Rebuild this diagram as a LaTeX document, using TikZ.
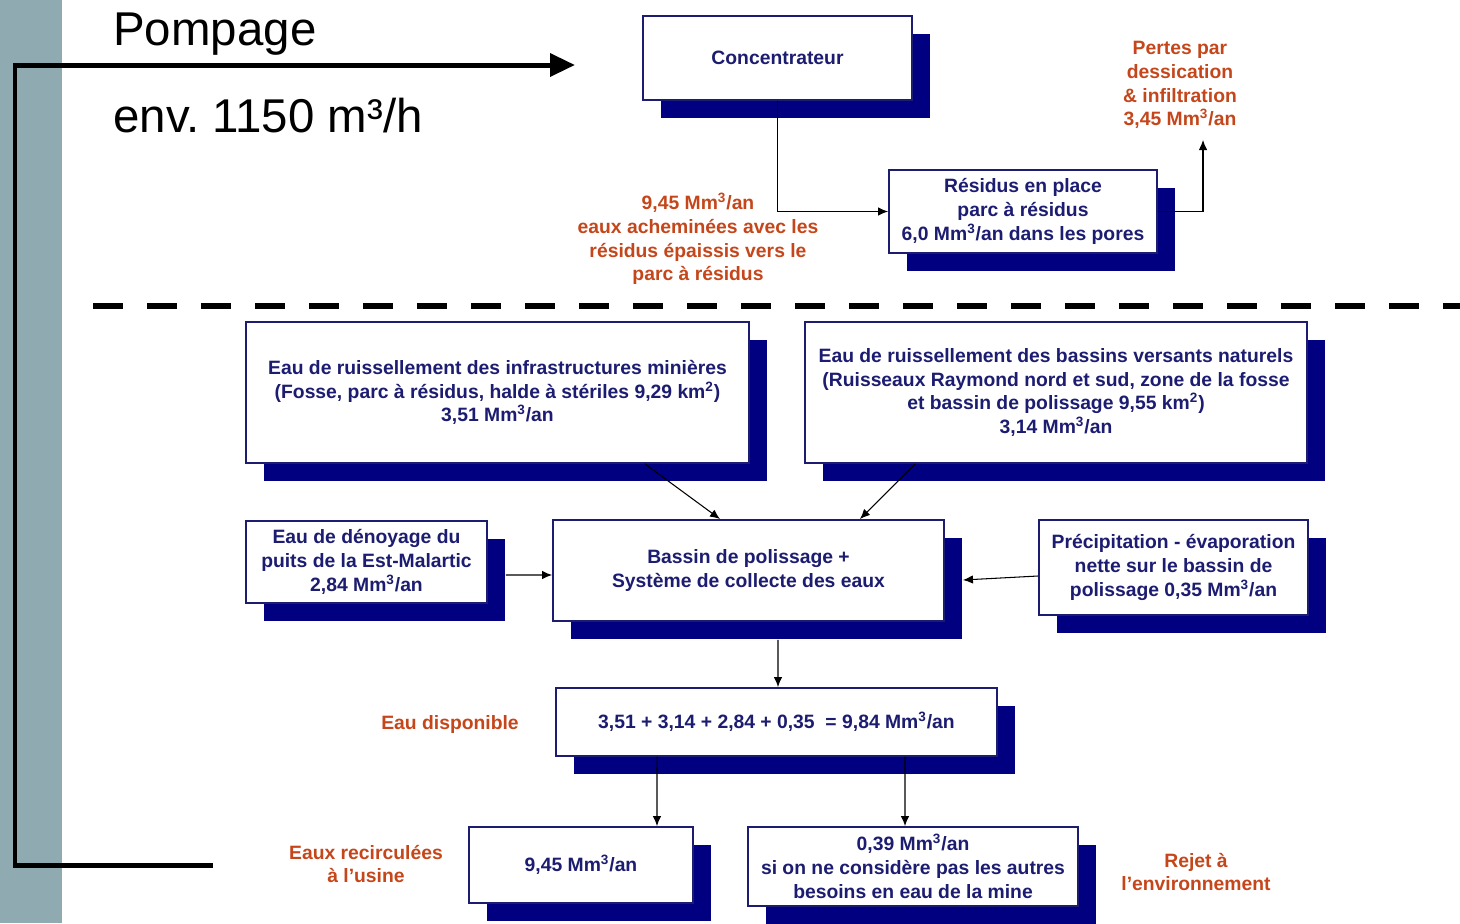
\documentclass[tikz,border=0pt]{standalone}
\usepackage{fontspec}
\setmainfont{Liberation Sans}
\usetikzlibrary{arrows.meta,shadows}
\definecolor{marine}{RGB}{28,28,112}
\definecolor{ombre}{RGB}{0,0,128}
\definecolor{rouille}{RGB}{196,70,26}
\definecolor{ardoise}{RGB}{143,170,176}
\newcommand{\mmc}{Mm\textsuperscript{3}/an}
\frenchspacing

\begin{document}
\begin{tikzpicture}[
	x=0.02cm, y=-0.02cm,
	bloc/.style={draw=marine, line width=1.1pt, fill=white, text=marine,
		font=\fontsize{11}{13.5}\selectfont\bfseries, align=center, inner sep=0pt,
		drop shadow={shadow xshift=0.36cm, shadow yshift=-0.36cm, fill=ombre, opacity=1}},
	etiquette/.style={text=rouille, font=\fontsize{11}{13.5}\selectfont\bfseries, align=center, inner sep=0pt},
	grand/.style={anchor=base west, inner sep=0pt, font=\fontsize{27}{32}\selectfont},
	fleche/.style={draw, line width=0.6pt, -{Latex[length=2mm,width=1.7mm]}},
	pompe/.style={draw, line width=0.1cm, -{Triangle[length=0.5cm,width=0.45cm]}}
]
\useasboundingbox (0,0) rectangle (1460,923);
\fill[ardoise] (0,0) rectangle (62,923);

\node[grand] (pompage) at (113,45) {Pompage};
\node[grand] (debit) at (113,132) {env. 1150 m³/h};

\node[bloc, minimum width=5.38cm, minimum height=1.68cm] (conc) at (777.5,58) {Concentrateur};
\node[bloc, minimum width=5.36cm, minimum height=1.66cm] (resid) at (1023,211.5) {%
	Résidus en place\\parc à résidus\\6,0 \mmc{} dans les pores};
\node[etiquette] (pertes) at (1180,85) {Pertes par\\dessication\\\& infiltration\\3,45 \mmc};
\node[etiquette] (achem) at (698,239) {%
	9,45 \mmc\\eaux acheminées avec les\\résidus épaissis vers le\\parc à résidus};
\coordinate (pertesfin) at (1203,140);
\coordinate (pompedepart) at (213,865);
\coordinate (pompefin) at (575,65);

\draw[line width=0.12cm, dash pattern=on 0.6cm off 0.48cm] (93,306) -- (1460,306);

\node[bloc, minimum width=10.06cm, minimum height=2.82cm] (infra) at (497.5,392.5) {%
	Eau de ruissellement des infrastructures minières\\
	(Fosse, parc à résidus, halde à stériles 9,29 km\textsuperscript{2})\\3,51 \mmc};
\node[bloc, minimum width=10.04cm, minimum height=2.82cm] (versants) at (1056,392.5) {%
	Eau de ruissellement des bassins versants naturels\\
	(Ruisseaux Raymond nord et sud, zone de la fosse\\
	et bassin de polissage 9,55 km\textsuperscript{2})\\3,14 \mmc};
\node[bloc, minimum width=4.82cm, minimum height=1.64cm] (denoy) at (366.5,562) {%
	Eau de dénoyage du\\puits de la Est-Malartic\\2,84 \mmc};
\node[bloc, minimum width=7.82cm, minimum height=2.02cm] (bassin) at (748.5,570.5) {%
	Bassin de polissage +\\Système de collecte des eaux};
\node[bloc, minimum width=5.38cm, minimum height=1.90cm] (precip) at (1173.5,567.5) {%
	Précipitation - évaporation\\nette sur le bassin de\\polissage 0,35 \mmc};
\node[bloc, minimum width=8.82cm, minimum height=1.36cm] (dispo) at (776.5,722) {%
	3,51 + 3,14 + 2,84 + 0,35 ~= 9,84 \mmc};
\node[etiquette] (eaudispo) at (450,724) {Eau disponible};
\node[bloc, minimum width=4.48cm, minimum height=1.52cm] (recirc) at (581,865) {9,45 \mmc};
\node[etiquette] (usine) at (366,864) {Eaux recirculées\\à l’usine};
\node[bloc, minimum width=6.60cm, minimum height=1.58cm] (rejet) at (913,866.5) {%
	0,39 \mmc\\si on ne considère pas les autres\\besoins en eau de la mine};
\node[etiquette] (env) at (1196,872) {Rejet à\\l’environnement};

\draw[pompe] (pompedepart) -- ++(-198,0) |- (pompefin);
\draw[fleche] (conc.south) |- (resid.west);
\draw[fleche] (resid.east) -| (pertesfin);
\draw[fleche] ([xshift=2.95cm]infra.south) -- ([xshift=-0.57cm]bassin.north);
\draw[fleche] ([xshift=-2.82cm]versants.south) -- ([xshift=2.23cm]bassin.north);
\draw[fleche] ([shift={(18,13)}]denoy.east) -- ([shift={(0,4.5)}]bassin.west);
\draw[fleche] ([shift={(0,8.5)}]precip.west) -- ([shift={(18,9.5)}]bassin.east);
\draw[fleche] ([shift={(29.5,18)}]bassin.south) -- ([xshift=0.03cm]dispo.north);
\draw[fleche] ([xshift=-2.39cm]dispo.south) -- ([xshift=1.52cm]recirc.north);
\draw[fleche] ([xshift=2.57cm]dispo.south) -- ([xshift=-0.16cm]rejet.north);
\end{tikzpicture}
\end{document}
